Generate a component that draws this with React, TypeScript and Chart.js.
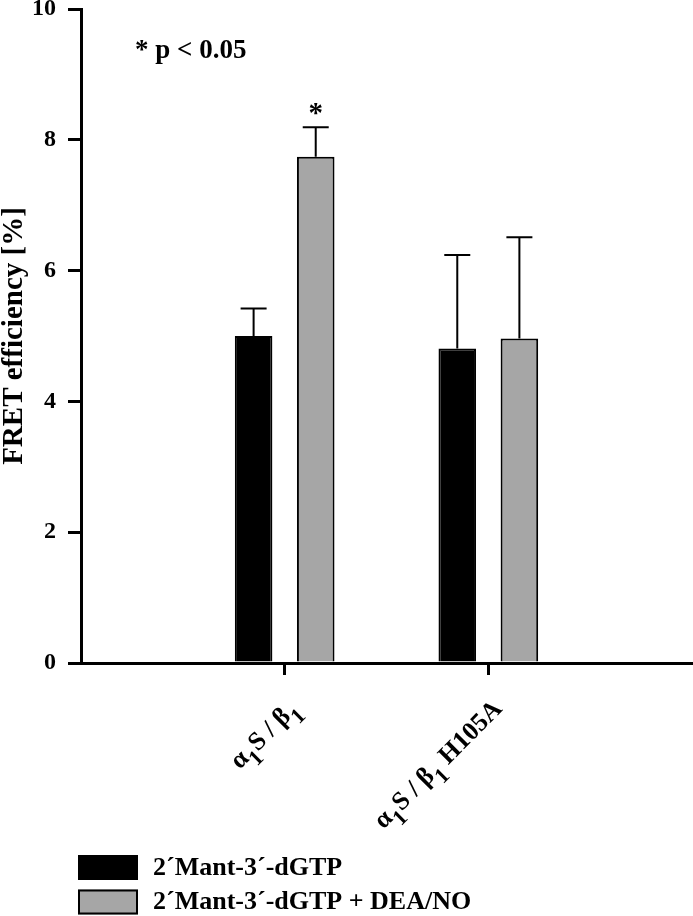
import React, { useEffect, useRef } from 'react';
import { Chart, registerables } from 'chart.js';

Chart.register(...registerables);

// ---- data ----
const categories = ['α₁S / β₁', 'α₁S / β₁ H105A'];
const seriesNames = ['2´Mant-3´-dGTP', '2´Mant-3´-dGTP + DEA/NO'];
const meanControl = [5.0, 4.81];
const errControl = [0.42, 1.43];
const meanDEA = [7.74, 4.96];
const errDEA = [0.45, 1.55];
const sigControl = [false, false];
const sigDEA = [true, false];
const noteText = '* p < 0.05';
const yTitle = 'FRET efficiency [%]';
const yMin = 0;
const yMax = 10;
const yStep = 2;

const FONT = "'Liberation Serif', 'Times New Roman', serif";
const GRAY = '#a6a6a6';

const errArrays = [errControl, errDEA];
const sigArrays = [sigControl, sigDEA];

const errorBarPlugin = {
  id: 'errorBars',
  afterDatasetsDraw(chart: any) {
    const ctx = chart.ctx;
    const ys = chart.scales.y;
    chart.data.datasets.forEach((ds: any, di: number) => {
      const meta = chart.getDatasetMeta(di);
      meta.data.forEach((bar: any, i: number) => {
        const v = ds.data[i].y;
        const top = ys.getPixelForValue(v + errArrays[di][i]);
        ctx.save();
        ctx.strokeStyle = '#000';
        ctx.lineWidth = 2;
        ctx.beginPath();
        ctx.moveTo(bar.x, bar.y);
        ctx.lineTo(bar.x, top);
        ctx.moveTo(bar.x - 13, top);
        ctx.lineTo(bar.x + 13, top);
        ctx.stroke();
        if (sigArrays[di][i]) {
          ctx.fillStyle = '#000';
          ctx.font = `bold 29px ${FONT}`;
          ctx.textAlign = 'center';
          ctx.textBaseline = 'alphabetic';
          ctx.fillText('*', bar.x, top - 5);
        }
        ctx.restore();
      });
    });
  },
};

const decorPlugin = {
  id: 'decor',
  afterDraw(chart: any) {
    const ctx = chart.ctx;
    const xs = chart.scales.x;
    const area = chart.chartArea;
    ctx.save();
    ctx.fillStyle = '#000';
    // note
    ctx.font = `bold 27px ${FONT}`;
    ctx.textAlign = 'left';
    ctx.textBaseline = 'middle';
    ctx.fillText(noteText, 135, 51);

    // category labels, rotated 45 degrees, subscripts for '₁'
    const mainSize = 26;
    const subSize = 22;
    categories.forEach((label, i) => {
      const x = xs.getPixelForValue(i + 1);
      const parts = label.split('₁');
      ctx.save();
      ctx.translate(x + 15, area.bottom + 47);
      ctx.rotate(-Math.PI / 4);
      ctx.textBaseline = 'alphabetic';
      ctx.textAlign = 'left';
      let total = 0;
      parts.forEach((p, k) => {
        ctx.font = `bold ${mainSize}px ${FONT}`;
        total += ctx.measureText(p).width;
        if (k < parts.length - 1) {
          ctx.font = `bold ${subSize}px ${FONT}`;
          total += ctx.measureText('1').width;
        }
      });
      let cx = -total;
      parts.forEach((p, k) => {
        ctx.font = `bold ${mainSize}px ${FONT}`;
        ctx.fillText(p, cx, 0);
        cx += ctx.measureText(p).width;
        if (k < parts.length - 1) {
          ctx.font = `bold ${subSize}px ${FONT}`;
          ctx.fillText('1', cx, 10);
          cx += ctx.measureText('1').width;
        }
      });
      ctx.restore();
    });

    // legend
    chart.data.datasets.forEach((ds: any, di: number) => {
      const by = 855 + di * 34.5;
      ctx.fillStyle = ds.backgroundColor;
      ctx.fillRect(78, by, 60, 25);
      ctx.strokeStyle = '#000';
      ctx.lineWidth = 2;
      ctx.strokeRect(79, by + 1, 58, 23);
      ctx.fillStyle = '#000';
      ctx.font = `bold 26px ${FONT}`;
      ctx.textAlign = 'left';
      ctx.textBaseline = 'middle';
      ctx.fillText(ds.label, 153, by + 13);
    });
    ctx.restore();
  },
};

export default function App() {
  const ref = useRef<HTMLCanvasElement>(null);
  useEffect(() => {
    if (!ref.current) return;
    const chart = new Chart(ref.current, {
      type: 'bar',
      data: {
        datasets: [
          {
            label: seriesNames[0],
            data: meanControl.map((v, i) => ({ x: i + 1, y: v })),
            backgroundColor: '#000',
            borderColor: '#000',
            borderWidth: 2,
          },
          {
            label: seriesNames[1],
            data: meanDEA.map((v, i) => ({ x: i + 1, y: v })),
            backgroundColor: GRAY,
            borderColor: '#000',
            borderWidth: 2,
          },
        ],
      },
      options: {
        responsive: false,
        animation: false,
        categoryPercentage: 0.61,
        barPercentage: 0.605,
        layout: { padding: { top: 9, right: 1, left: 0, bottom: 0 } },
        plugins: { legend: { display: false }, tooltip: { enabled: false } },
        scales: {
          x: {
            type: 'linear',
            min: 0,
            max: 3,
            offset: false,
            afterBuildTicks: (s: any) => {
              s.ticks = categories.map((_, i) => ({ value: i + 1 }));
            },
            afterFit: (s: any) => {
              s.height = 916 - 663;
              s.paddingLeft = 0;
              s.paddingRight = 0;
            },
            ticks: { display: false },
            grid: {
              display: true,
              offset: false,
              drawOnChartArea: false,
              drawTicks: true,
              tickLength: 12,
              lineWidth: 3,
              color: '#000',
            },
            border: { display: true, color: '#000', width: 3 },
          },
          y: {
            min: yMin,
            max: yMax,
            afterFit: (s: any) => {
              s.width = 81;
              s.paddingTop = 0;
              s.paddingBottom = 0;
            },
            ticks: {
              stepSize: yStep,
              color: '#000',
              padding: 12,
              font: { family: FONT, size: 24, weight: 'bold' },
            },
            grid: {
              drawOnChartArea: false,
              drawTicks: true,
              tickLength: 13,
              lineWidth: 3,
              color: '#000',
            },
            border: { display: true, color: '#000', width: 3 },
            title: {
              display: true,
              text: yTitle,
              color: '#000',
              padding: 0,
              font: { family: FONT, size: 29, weight: 'bold', lineHeight: 1 },
            },
          },
        },
      },
      plugins: [errorBarPlugin, decorPlugin],
    } as any);
    return () => chart.destroy();
  }, []);
  return (
    <div style={{ position: 'absolute', left: 0, top: 0, width: 693, height: 916, background: '#fff' }}>
      <canvas ref={ref} width={693} height={916} style={{ display: 'block' }} />
    </div>
  );
}
